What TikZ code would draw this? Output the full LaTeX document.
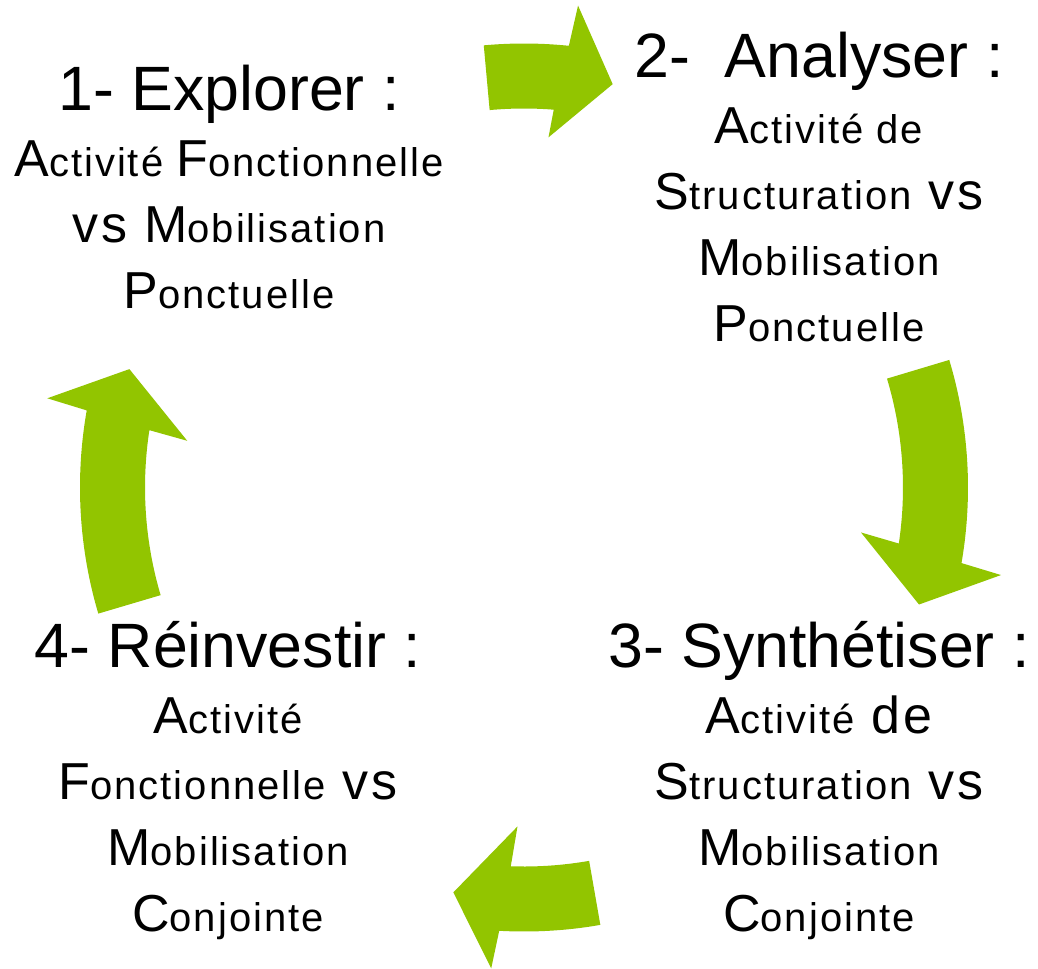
\documentclass[tikz,border=0pt]{standalone}
\usepackage{fontspec}
\usepackage{tikz}
\setmainfont{Liberation Sans}
\newfontfamily\titre{Liberation Sans}
\newfontfamily\corps{Liberation Sans}[LetterSpace=5]
\definecolor{vertcycle}{RGB}{146,197,0}
\newcommand\grand[1]{{\fontsize{39}{49.5}\selectfont #1}}
\newcommand\tetiere[1]{{\titre\fontsize{47}{49.5}\selectfont #1}}

\begin{document}
\begin{tikzpicture}[x=0.75pt, y=0.75pt]
\tikzset{
  bloc/.style={align=center, anchor=base, inner sep=0pt,
    font=\corps\fontsize{30}{49.5}\selectfont},
  fleche/.style={fill=vertcycle, draw=none}
}

\useasboundingbox (-524, -480.5) rectangle (514, 487.5);

% draw curved arrows around the cycle
\fill[fleche] (95.2 : 444) arc [radius = 444, start angle = 95.2, end angle = 84.2]
              -- (83.6 : 485) -- (77.6 : 413) -- (86.0 : 351)
              -- (85.5 : 379) arc [radius = 379, start angle = 85.5, end angle = 95.2]
              -- cycle;

\fill[fleche] (16.7 : 444) arc [radius = 444, start angle = 16.7, end angle = -9.8]
              -- (-10.4 : 485) -- (-16.5 : 412) -- (-7.6 : 340)
              -- (-8.5 : 379) arc [radius = 379, start angle = -8.5, end angle = 16.7]
              -- cycle;

\fill[fleche] (-80.1 : 444) arc [radius = 444, start angle = -80.1, end angle = -93.2]
              -- (-93.9 : 482) -- (-99.9 : 411) -- (-91.1 : 339)
              -- (-92.0 : 379) arc [radius = 379, start angle = -92.0, end angle = -80.1]
              -- cycle;

\fill[fleche] (196.5 : 444) arc [radius = 444, start angle = 196.5, end angle = 170.0]
              -- (169.4 : 485) -- (163.3 : 412) -- (172.1 : 340)
              -- (171.3 : 379) arc [radius = 379, start angle = 171.3, end angle = 196.5]
              -- cycle;

% draw the four steps (anchored on the baseline of their last line)
\node[bloc] (explorer) at (-295, 179.5)
  {\tetiere{1- Explorer :}\\
   \grand{A}ctivité \grand{F}onctionnelle\\
   \grand{vs M}obilisation\\
   \grand{P}onctuelle};

\node[bloc] (analyser) at (295, 145.8)
  {\tetiere{2-\ \ Analyser :}\\
   \grand{A}ctivité de\\
   \grand{S}tructuration\grand{\ vs}\\
   \grand{M}obilisation\\
   \grand{P}onctuelle};

\node[bloc] (synthetiser) at (295, -444.2)
  {\tetiere{3- Synthétiser :}\\
   \grand{A}ctivité\grand{\ de}\\
   \grand{S}tructuration\grand{\ vs}\\
   \grand{M}obilisation\\
   \grand{C}onjointe};

\node[bloc] (reinvestir) at (-296, -444.2)
  {\tetiere{4- Réinvestir :}\\
   \grand{A}ctivité\\
   \grand{F}onctionnelle\grand{\ vs}\\
   \grand{M}obilisation\\
   \grand{C}onjointe};

\end{tikzpicture}
\end{document}
